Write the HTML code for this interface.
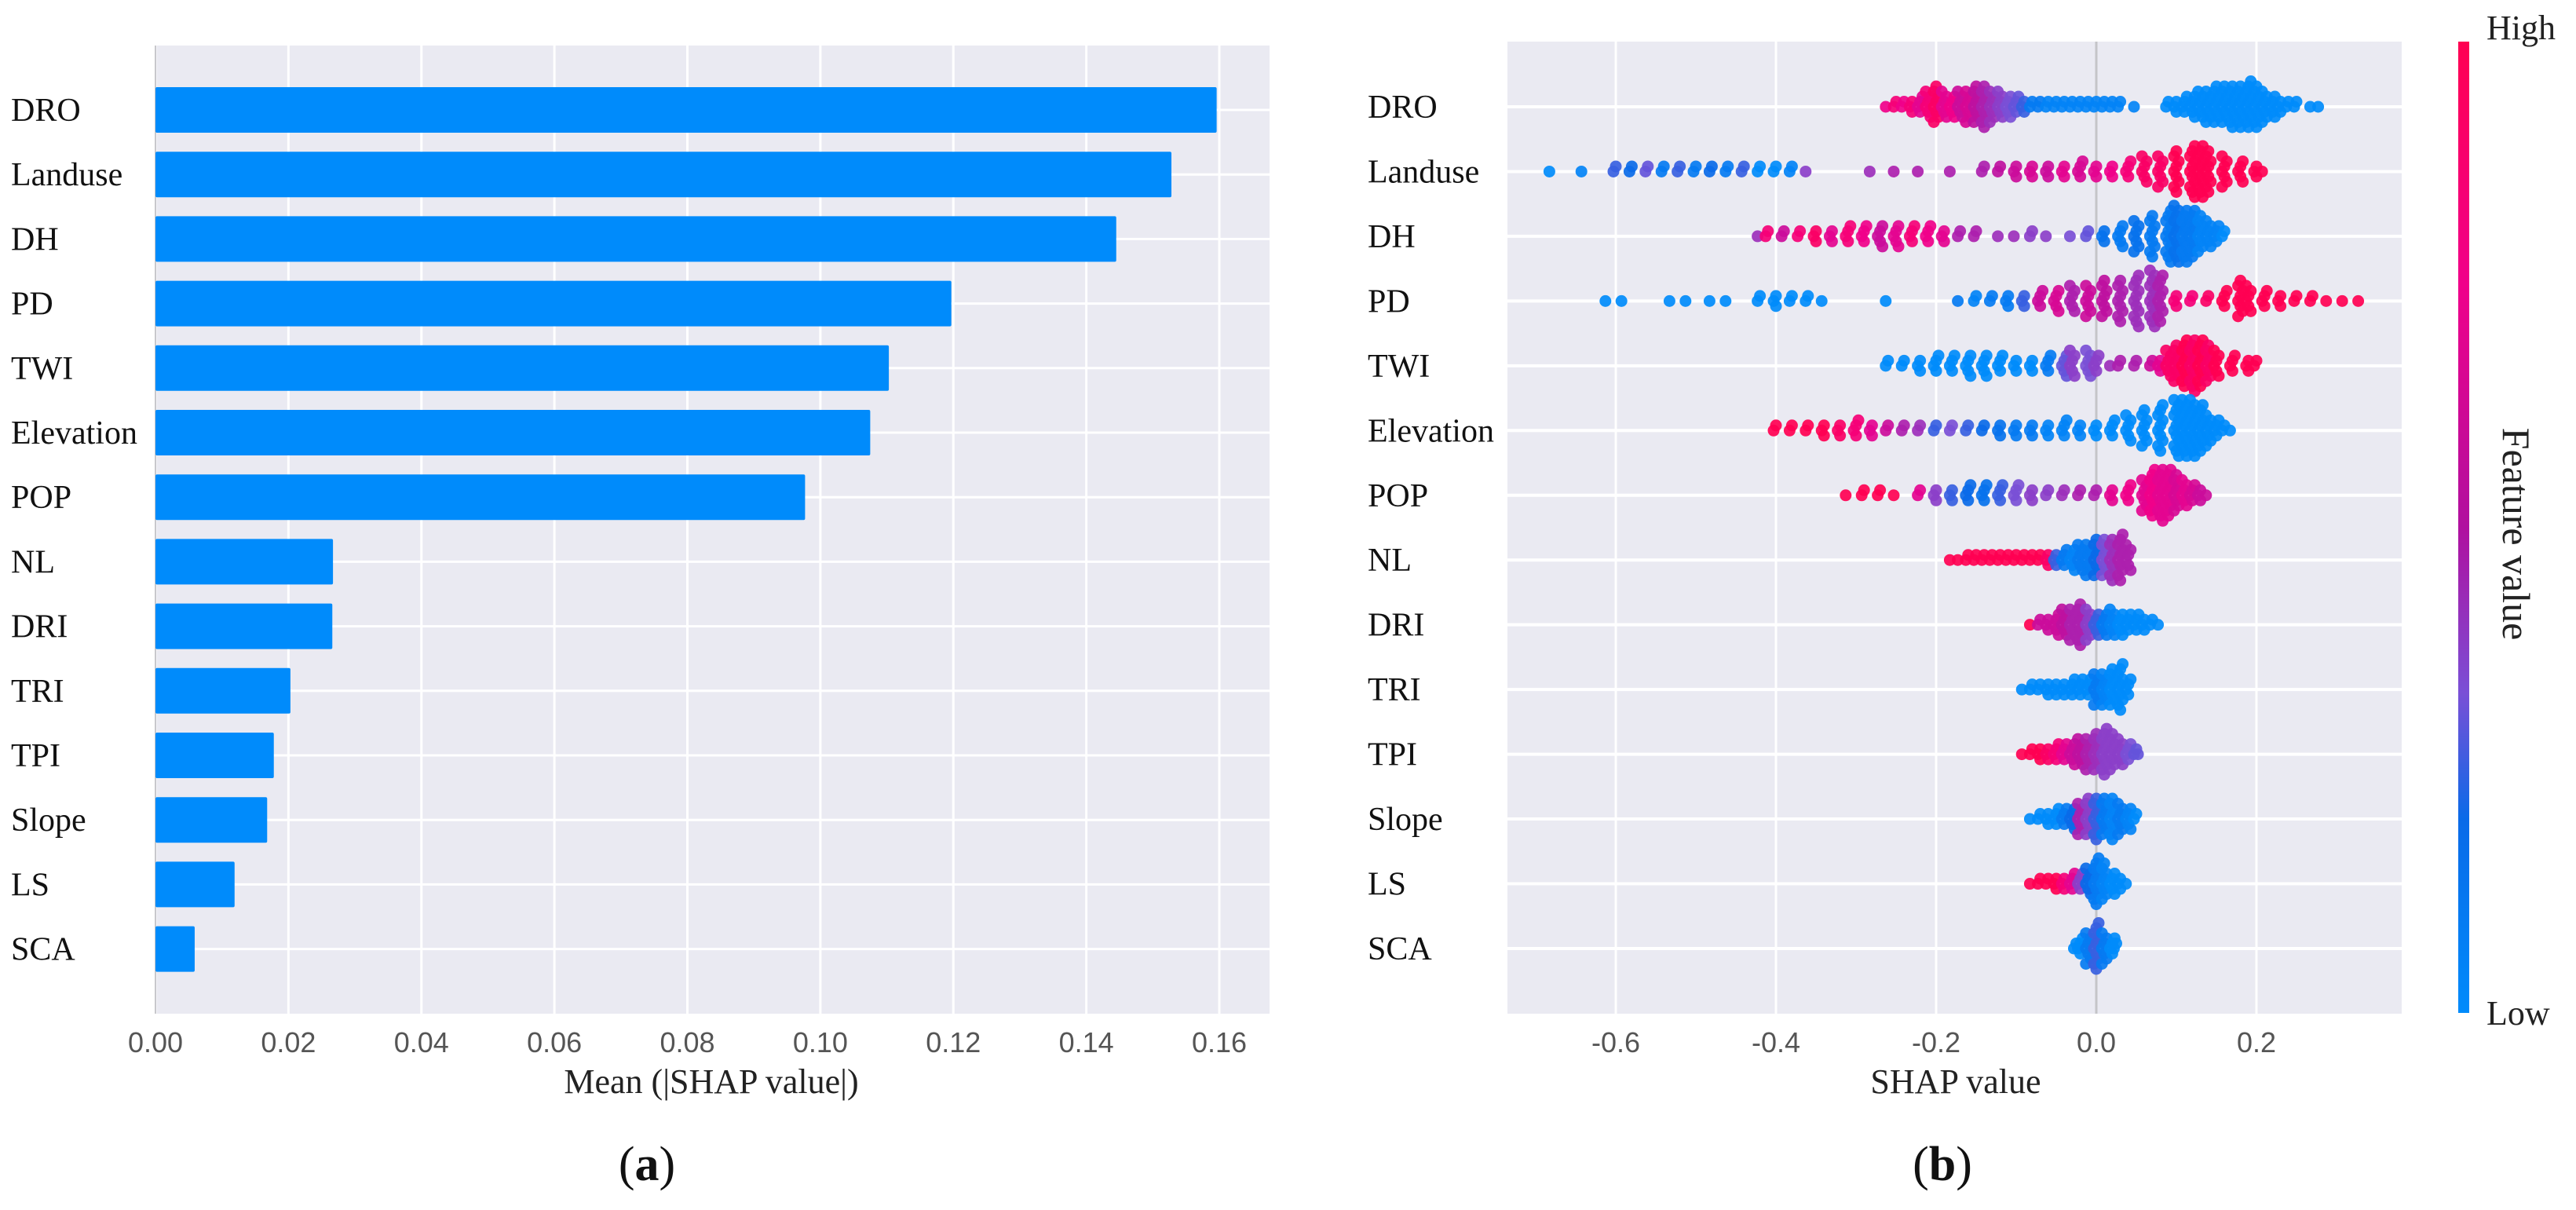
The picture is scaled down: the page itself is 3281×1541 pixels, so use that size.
<!DOCTYPE html>
<html><head><meta charset="utf-8"><style>
html,body{margin:0;padding:0;background:#fff;}
svg{display:block;}
.lab{font-family:"Liberation Serif",serif;font-size:42px;fill:#111;}
.tick{font-family:"Liberation Sans",sans-serif;font-size:36px;fill:#555;}
.ttl{font-family:"Liberation Serif",serif;font-size:44px;fill:#222;}
.cap{font-family:"Liberation Serif",serif;font-size:62px;fill:#111;}
</style></head><body>
<svg id="fig" width="3281" height="1541" viewBox="0 0 3281 1541" xmlns="http://www.w3.org/2000/svg">
<defs>
<linearGradient id="cb" x1="0" y1="1" x2="0" y2="0">
<stop offset="0" stop-color="#008bfb"/><stop offset="0.2" stop-color="#0a6ae8"/><stop offset="0.33" stop-color="#7a4fd6"/><stop offset="0.5" stop-color="#b0109f"/><stop offset="0.75" stop-color="#f0008a"/><stop offset="1" stop-color="#ff0052"/>
</linearGradient>
</defs>
<g id="left"></g>
<g id="right"></g>
<rect x="3131" y="53" width="14" height="1237" fill="url(#cb)"/>
<text x="3167" y="50" class="ttl">High</text>
<text x="3167" y="1305" class="ttl">Low</text>
<text transform="translate(3188,680) rotate(90)" text-anchor="middle" class="ttl" style="font-size:50px">Feature value</text>
<text x="906" y="1392" text-anchor="middle" class="ttl">Mean (|SHAP value|)</text>
<text x="2491" y="1392" text-anchor="middle" class="ttl">SHAP value</text>
<text x="824" y="1503" text-anchor="middle" class="cap">(<tspan font-weight="bold">a</tspan>)</text>
<text x="2474" y="1503" text-anchor="middle" class="cap">(<tspan font-weight="bold">b</tspan>)</text>
</svg>
<script>
const features = ["DRO","Landuse","DH","PD","TWI","Elevation","POP","NL","DRI","TRI","TPI","Slope","LS","SCA"];
const meanAbs = [0.1596,0.1528,0.1445,0.1197,0.1103,0.1075,0.0977,0.0267,0.0266,0.0203,0.0178,0.0168,0.0119,0.0059];
const barTicks = [0,0.02,0.04,0.06,0.08,0.10,0.12,0.14,0.16];
const barTickLabels = ["0.00","0.02","0.04","0.06","0.08","0.10","0.12","0.14","0.16"];
const swarmTicks = [-0.6,-0.4,-0.2,0.0,0.2];
const swarmTickLabels = ["-0.6","-0.4","-0.2","0.0","0.2"];
// clusters: [shap value, number of dots, feature value 0..1]
const sDRO = [[-0.26,1,.85],[-0.25,2,.9],[-0.24,2,.85],[-0.23,3,.9],[-0.22,4,.8],[-0.21,6,.9],[-0.20,8,.95],[-0.19,6,.8],[-0.18,5,.85],[-0.17,6,.7],[-0.16,7,.75],[-0.15,8,.65],[-0.14,9,.6],[-0.13,7,.55],[-0.12,6,.5],[-0.11,5,.45],[-0.10,4,.4],[-0.09,3,.3],[-0.08,2,.1],[-0.07,2,.1],[-0.06,2,.05],[-0.05,2,.05],[-0.04,2,.05],[-0.03,2,.05],[-0.02,2,.05],[-0.01,2,.05],[0.0,2,.05],[0.01,2,.05],[0.02,2,.05],[0.03,2,.05],[0.05,1,.05],[0.09,2,0],[0.10,3,0],[0.11,4,0],[0.12,5,0],[0.13,6,0],[0.14,7,0],[0.15,8,0],[0.16,8,0],[0.17,9,0],[0.18,9,0],[0.19,10,0],[0.20,9,0],[0.21,7,0],[0.22,5,0],[0.23,3,0],[0.24,2,0],[0.25,2,0],[0.27,1,0],[0.28,1,0]];
const sLanduse = [[-0.68,1,0],[-0.64,1,0.05],[-0.60,2,.3],[-0.58,2,.2],[-0.56,2,.4],[-0.54,2,.1],[-0.52,2,.3],[-0.50,2,.1],[-0.48,2,.2],[-0.46,2,.1],[-0.44,2,.3],[-0.42,2,0],[-0.40,2,0],[-0.38,2,.05],[-0.36,1,.5],[-0.28,1,.55],[-0.25,1,.6],[-0.22,1,.6],[-0.18,1,.6],[-0.14,2,.6],[-0.12,2,.65],[-0.10,3,.7],[-0.08,3,.75],[-0.06,3,.7],[-0.04,3,.8],[-0.02,4,.75],[0.0,3,.8],[0.02,3,.85],[0.04,4,.9],[0.06,6,.95],[0.08,7,.95],[0.10,9,1],[0.12,11,1],[0.13,11,1],[0.14,9,1],[0.16,7,1],[0.18,5,1],[0.20,3,1],[0.21,1,1]];
const sDH = [[-0.42,1,.55],[-0.41,2,.9],[-0.39,2,.7],[-0.37,2,.9],[-0.35,3,.95],[-0.33,3,.8],[-0.31,4,.9],[-0.29,4,.85],[-0.27,5,.7],[-0.25,5,.8],[-0.23,4,.9],[-0.21,4,.85],[-0.19,3,.8],[-0.17,2,.6],[-0.15,2,.6],[-0.12,1,.55],[-0.10,1,.55],[-0.08,2,.5],[-0.06,1,.5],[-0.03,1,.45],[-0.01,2,.4],[0.01,3,.15],[0.03,5,.1],[0.05,7,.15],[0.07,9,.1],[0.09,11,.1],[0.10,12,.15],[0.11,11,.1],[0.12,10,.1],[0.13,8,.05],[0.14,6,.05],[0.15,4,.05],[0.16,2,0]];
const sPD = [[-0.61,1,0],[-0.59,1,0],[-0.53,1,0],[-0.51,1,0],[-0.48,1,0],[-0.46,1,0],[-0.42,2,0],[-0.40,3,0],[-0.38,2,0],[-0.36,2,0],[-0.34,1,0],[-0.26,1,0],[-0.17,1,.1],[-0.15,2,.05],[-0.13,2,.1],[-0.11,3,.1],[-0.09,3,.3],[-0.07,4,.7],[-0.05,5,.75],[-0.03,6,.6],[-0.01,7,.7],[0.01,8,.65],[0.03,9,.6],[0.05,11,.55],[0.07,12,.55],[0.08,10,.6],[0.10,3,.9],[0.12,2,.9],[0.14,2,.95],[0.16,4,1],[0.18,8,1],[0.19,6,1],[0.21,4,1],[0.23,3,1],[0.25,2,1],[0.27,2,1],[0.29,1,1],[0.31,1,1],[0.33,1,1]];
const sTWI = [[-0.26,2,0],[-0.24,2,0],[-0.22,3,0],[-0.20,4,0],[-0.18,4,0],[-0.16,5,0],[-0.14,5,0],[-0.12,4,0],[-0.10,3,0],[-0.08,3,0],[-0.06,4,.1],[-0.04,5,.4],[-0.03,6,.5],[-0.01,6,.45],[0.0,4,.5],[0.02,1,.55],[0.03,2,.6],[0.05,2,.6],[0.07,2,.7],[0.08,3,.8],[0.09,6,.95],[0.10,8,.95],[0.11,10,1],[0.12,11,.95],[0.13,10,1],[0.14,8,.95],[0.15,6,1],[0.17,4,1],[0.19,3,1],[0.20,2,1]];
const sElevation = [[-0.40,2,1],[-0.38,2,1],[-0.36,2,1],[-0.34,3,1],[-0.32,3,.95],[-0.30,4,.9],[-0.28,3,.8],[-0.26,2,.7],[-0.24,2,.6],[-0.22,2,.55],[-0.20,2,.3],[-0.18,2,.45],[-0.16,2,.3],[-0.14,2,.2],[-0.12,3,.15],[-0.10,3,.1],[-0.08,3,.1],[-0.06,3,.05],[-0.04,4,.05],[-0.02,3,.05],[0.0,3,0],[0.02,4,0],[0.04,6,0],[0.06,8,0],[0.08,10,0],[0.10,12,0],[0.11,12,0],[0.12,12,0],[0.13,10,0],[0.14,7,0],[0.15,4,0],[0.16,2,0],[0.17,1,0]];
const sPOP = [[-0.31,1,1],[-0.29,2,1],[-0.27,2,1],[-0.25,1,1],[-0.22,2,.8],[-0.20,3,.5],[-0.18,3,.3],[-0.16,4,.2],[-0.14,4,.15],[-0.12,4,.3],[-0.10,4,.45],[-0.08,3,.5],[-0.06,2,.5],[-0.04,2,.55],[-0.02,2,.6],[0.0,2,.6],[0.02,3,.8],[0.04,4,.85],[0.06,7,.8],[0.07,10,.85],[0.08,11,.8],[0.09,10,.8],[0.10,8,.75],[0.11,6,.8],[0.12,4,.75],[0.13,3,.7],[0.14,1,.7]];
const sNL = [[-0.18,1,1],[-0.17,1,1],[-0.16,2,1],[-0.15,2,1],[-0.14,2,1],[-0.13,2,1],[-0.12,2,1],[-0.11,2,1],[-0.10,2,1],[-0.09,2,1],[-0.08,2,1],[-0.07,2,1],[-0.06,3,.95],[-0.05,3,.3],[-0.04,4,.1],[-0.03,5,.05],[-0.02,6,.1],[-0.01,7,.1],[0.0,8,.2],[0.01,8,.45],[0.02,9,.55],[0.03,10,.6],[0.04,6,.6]];
const sDRI = [[-0.08,1,1],[-0.07,2,.7],[-0.06,3,.7],[-0.05,5,.7],[-0.04,6,.65],[-0.03,7,.6],[-0.02,9,.6],[-0.01,7,.5],[0.0,5,.3],[0.01,5,.1],[0.02,6,.05],[0.03,5,0],[0.04,4,0],[0.05,4,0],[0.06,3,0],[0.07,2,0],[0.08,1,0]];
const sTRI = [[-0.09,1,0],[-0.08,2,0],[-0.07,2,0],[-0.06,3,0],[-0.05,3,0],[-0.04,3,0],[-0.03,4,0],[-0.02,4,0],[-0.01,4,0],[0.0,7,.1],[0.01,7,.05],[0.02,8,0],[0.03,10,0],[0.04,4,0]];
const sTPI = [[-0.09,1,1],[-0.08,2,1],[-0.07,3,1],[-0.06,3,.95],[-0.05,4,.9],[-0.04,4,.8],[-0.03,5,.7],[-0.02,6,.65],[-0.01,7,.6],[0.0,8,.55],[0.01,10,.5],[0.02,8,.5],[0.03,6,.5],[0.04,4,.45],[0.05,2,.4],[0.055,1,.4]];
const sSlope = [[-0.08,1,0],[-0.07,2,0],[-0.06,3,0],[-0.05,4,0],[-0.04,4,.1],[-0.03,5,.2],[-0.02,7,.6],[-0.01,8,.5],[0.0,9,.3],[0.01,8,.1],[0.02,9,.05],[0.03,7,.1],[0.04,5,.05],[0.05,2,0]];
const sLS = [[-0.08,1,1],[-0.07,2,1],[-0.06,2,1],[-0.05,3,1],[-0.04,3,.9],[-0.03,4,.8],[-0.02,4,.5],[-0.01,6,.2],[0.0,10,.1],[0.01,8,.05],[0.02,5,0],[0.03,3,0],[0.04,1,0]];
const sSCA = [[-0.025,2,0],[-0.02,4,0],[-0.01,7,.1],[0.0,10,.3],[0.01,7,.1],[0.02,4,0],[0.025,2,0]];
const swarm = [sDRO,sLanduse,sDH,sPD,sTWI,sElevation,sPOP,sNL,sDRI,sTRI,sTPI,sSlope,sLS,sSCA];

const NS="http://www.w3.org/2000/svg";
function mk(parent,tag,attrs,text){const e=document.createElementNS(NS,tag);for(const k in attrs)e.setAttribute(k,attrs[k]);if(text!==undefined)e.textContent=text;parent.appendChild(e);return e;}

// ----- left bar chart -----
const L={x0:198,x1:1617,y0:58,y1:1291};
const lx=v=>L.x0+v*(1553-198)/0.16;
const ly=i=>140+i*82.2;
const gl=document.getElementById('left');
let bg=mk(gl,'rect',{x:L.x0,y:L.y0,width:L.x1-L.x0,height:L.y1-L.y0,fill:'#eaeaf2'});


barTicks.forEach((t,i)=>{
  const ln=mk(gl,'line',{x1:lx(t),x2:lx(t),y1:L.y0,y2:L.y1,stroke:'#fff','stroke-width':3});
  
  
  const tx=mk(gl,'text',{x:lx(t),y:1340,'text-anchor':'middle',class:'tick'},barTickLabels[i]);
  
  
});
features.forEach((f,i)=>{
  const ln=mk(gl,'line',{x1:L.x0,x2:L.x1,y1:ly(i),y2:ly(i),stroke:'#fff','stroke-width':3});
  
  
});
mk(gl,'line',{x1:L.x0,x2:L.x0,y1:L.y0,y2:L.y1,stroke:'#c8c8cc','stroke-width':2});
features.forEach((f,i)=>{
  const r=mk(gl,'rect',{x:L.x0,y:ly(i)-29,width:lx(meanAbs[i])-L.x0,height:58,fill:'#008bfb',rx:2});
  
  
  const t=mk(gl,'text',{x:14,y:ly(i)+14,class:'lab'},f);
  
  
});

// ----- right beeswarm -----
const R={x0:1920,x1:3059,y0:53,y1:1291};
const rx=v=>2670+v*1020;
const ry=i=>136+i*82.46;
const gr=document.getElementById('right');
bg=mk(gr,'rect',{x:R.x0,y:R.y0,width:R.x1-R.x0,height:R.y1-R.y0,fill:'#eaeaf2'});


swarmTicks.forEach((t,i)=>{
  const ln=mk(gr,'line',{x1:rx(t),x2:rx(t),y1:R.y0,y2:R.y1,stroke:t===0?'#c4c4c8':'#fff','stroke-width':3});
  
  
  const tx=mk(gr,'text',{x:rx(t),y:1340,'text-anchor':'middle',class:'tick'},swarmTickLabels[i]);
  
  
});
features.forEach((f,i)=>{
  const ln=mk(gr,'line',{x1:R.x0,x2:R.x1,y1:ry(i),y2:ry(i),stroke:'#fff','stroke-width':4});
  
  
  const t=mk(gr,'text',{x:1742,y:ry(i)+14,class:'lab'},f);
  
  
});
function col(c){
  const stops=[[0,[0,139,251]],[0.2,[10,106,232]],[0.45,[122,79,214]],[0.65,[190,16,160]],[0.85,[240,0,138]],[1,[255,0,82]]];
  for(let k=1;k<stops.length;k++){if(c<=stops[k][0]){const a=stops[k-1],b=stops[k];const t=(c-a[0])/(b[0]-a[0]);return 'rgb('+a[1].map((v,j)=>Math.round(v+(b[1][j]-v)*t)).join(',')+')';}}
  return 'rgb(255,0,82)';
}
swarm.forEach((row,i)=>{
  const g=mk(gr,'g',{});
  
  
  row.forEach(([v,n,c])=>{
    for(let k=0;k<n;k++){
      const off=(k%2===0?1:-1)*Math.ceil(k/2)*6.5;
      const dx=((Math.ceil(k/2)%3)-1)*3;
      const d=mk(g,'circle',{cx:rx(v)+dx,cy:ry(i)+off,r:7.5,fill:col(c),'fill-opacity':0.92});
      
      
    }
  });
});
</script>
</body></html>
